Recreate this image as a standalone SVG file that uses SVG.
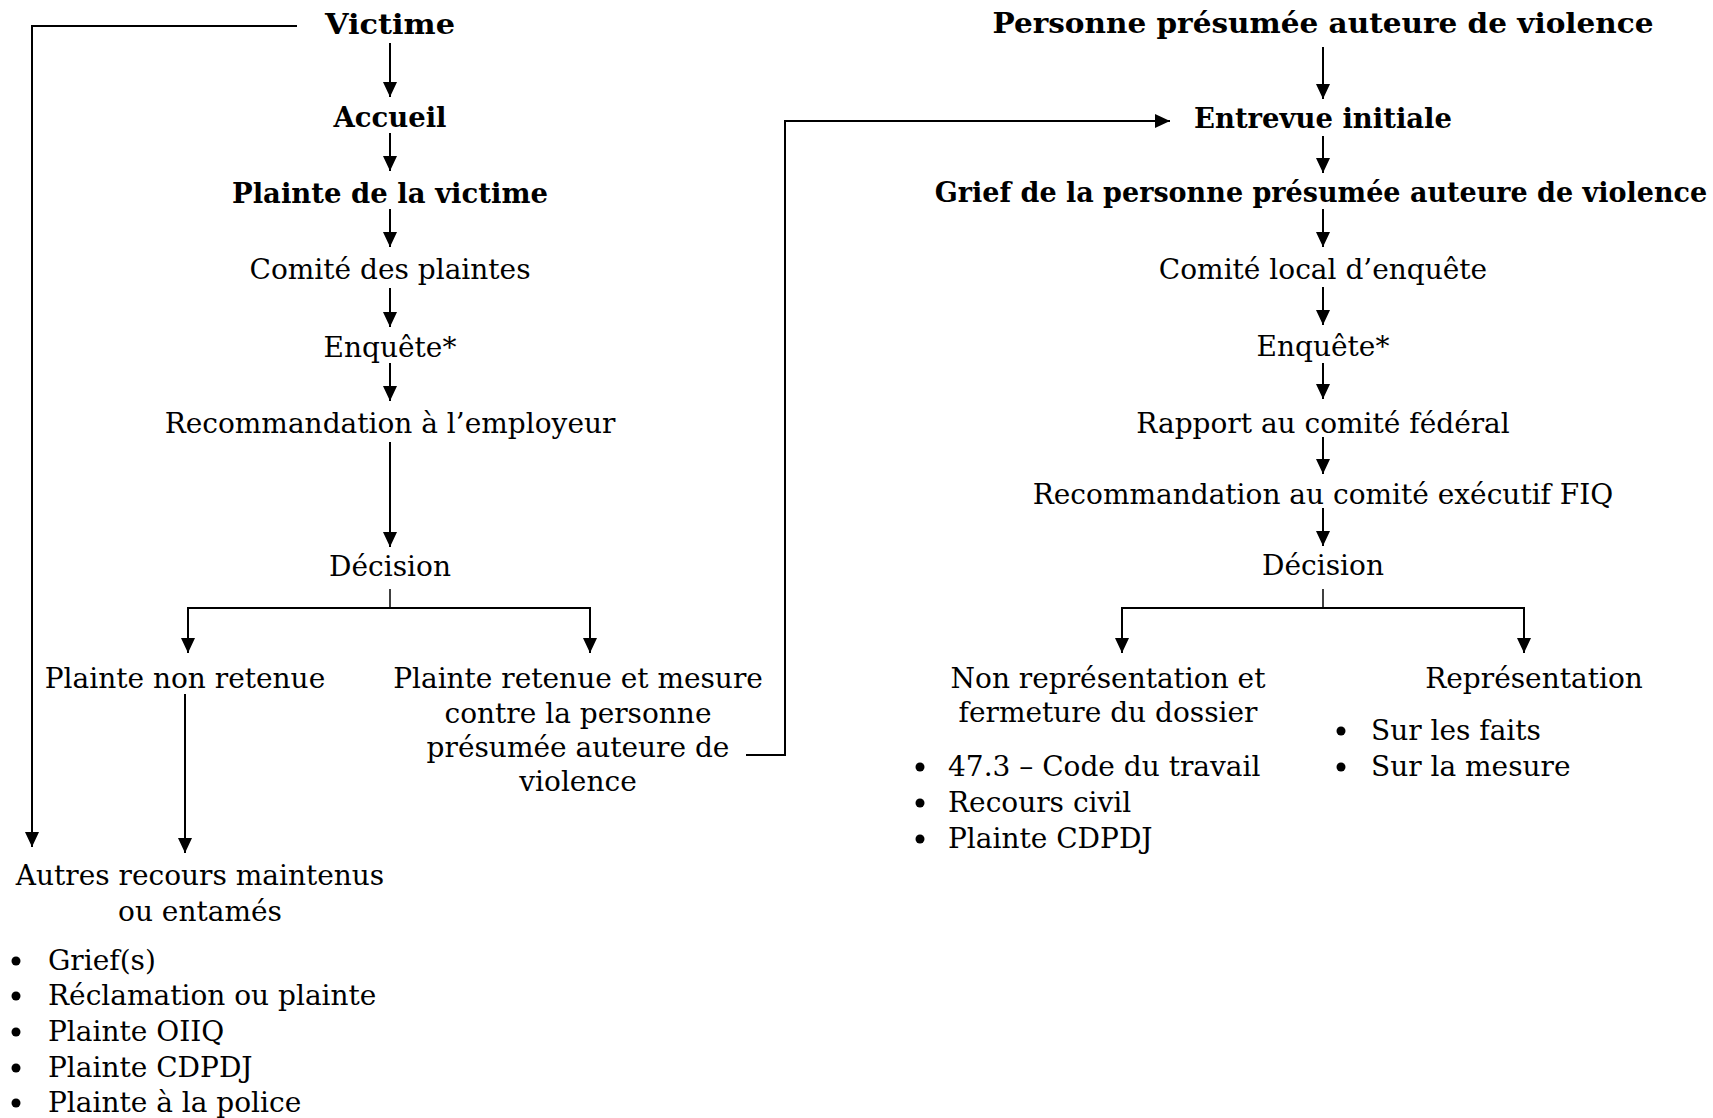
<svg xmlns="http://www.w3.org/2000/svg" width="1713" height="1118" viewBox="0 0 1713 1118">
<style>
text{font-family:"DejaVu Serif","Liberation Serif",serif;font-size:28px;fill:#000}
.b{font-weight:bold}
.c{text-anchor:middle}
.ln{fill:none;stroke:#000;stroke-width:2}
.thin{fill:none;stroke:#000;stroke-width:1.5}
</style>
<defs>
<marker id="ah" markerUnits="userSpaceOnUse" markerWidth="15" markerHeight="15" refX="15" refY="7" orient="auto" viewBox="0 0 15 14">
<path d="M0,0 L15,7 L0,14 z" fill="#000"/>
</marker>
</defs>
<rect width="1713" height="1118" fill="#fff"/>
<g id="connectors">
<path class="ln" d="M297,26 H32 V847" marker-end="url(#ah)"/>
<path class="ln" d="M390,43 V97" marker-end="url(#ah)"/>
<path class="ln" d="M390,133 V171" marker-end="url(#ah)"/>
<path class="ln" d="M390,209 V247" marker-end="url(#ah)"/>
<path class="ln" d="M390,288 V327" marker-end="url(#ah)"/>
<path class="ln" d="M390,363 V401" marker-end="url(#ah)"/>
<path class="ln" d="M390,442 V547" marker-end="url(#ah)"/>
<path class="thin" d="M390,589 V608"/>
<path class="ln" d="M188,608 H590"/>
<path class="ln" d="M188,607 V653" marker-end="url(#ah)"/>
<path class="ln" d="M590,607 V653" marker-end="url(#ah)"/>
<path class="ln" d="M185,694 V853" marker-end="url(#ah)"/>
<path class="ln" d="M746,755 H785 V121 H1170" marker-end="url(#ah)"/>
<path class="ln" d="M1323,47 V99" marker-end="url(#ah)"/>
<path class="ln" d="M1323,136 V173" marker-end="url(#ah)"/>
<path class="ln" d="M1323,209 V247" marker-end="url(#ah)"/>
<path class="ln" d="M1323,287 V325" marker-end="url(#ah)"/>
<path class="ln" d="M1323,363 V399" marker-end="url(#ah)"/>
<path class="ln" d="M1323,437 V474" marker-end="url(#ah)"/>
<path class="ln" d="M1323,508 V546" marker-end="url(#ah)"/>
<path class="thin" d="M1323,589 V608"/>
<path class="ln" d="M1122,608 H1524"/>
<path class="ln" d="M1122,607 V653" marker-end="url(#ah)"/>
<path class="ln" d="M1524,607 V653" marker-end="url(#ah)"/>
</g>
<g id="victime"><text class="b c" x="390" y="34" textLength="130" lengthAdjust="spacingAndGlyphs">Victime</text></g>
<g id="accueil"><text class="b c" x="390" y="127" textLength="113" lengthAdjust="spacingAndGlyphs">Accueil</text></g>
<g id="plainte-victime"><text class="b c" x="390" y="203" textLength="316" lengthAdjust="spacingAndGlyphs">Plainte de la victime</text></g>
<g id="comite-plaintes"><text class="c" x="390" y="279">Comité des plaintes</text></g>
<g id="enquete-left"><text class="c" x="390" y="357">Enquête*</text></g>
<g id="recommandation-employeur"><text class="c" x="390" y="433">Recommandation à l’employeur</text></g>
<g id="decision-left"><text class="c" x="390" y="576">Décision</text></g>
<g id="plainte-non-retenue"><text class="c" x="185" y="688">Plainte non retenue</text></g>
<g id="plainte-retenue">
<text class="c" x="578" y="688">Plainte retenue et mesure</text>
<text class="c" x="578" y="723">contre la personne</text>
<text class="c" x="578" y="757">présumée auteure de</text>
<text class="c" x="578" y="791">violence</text>
</g>
<g id="autres-recours">
<text class="c" x="200" y="885">Autres recours maintenus</text>
<text class="c" x="200" y="921">ou entamés</text>
<circle cx="16" cy="961" r="4.5"/><text x="48" y="970">Grief(s)</text>
<circle cx="16" cy="996" r="4.5"/><text x="48" y="1005">Réclamation ou plainte</text>
<circle cx="16" cy="1032" r="4.5"/><text x="48" y="1041">Plainte OIIQ</text>
<circle cx="16" cy="1068" r="4.5"/><text x="48" y="1077">Plainte CDPDJ</text>
<circle cx="16" cy="1103" r="4.5"/><text x="48" y="1112">Plainte à la police</text>
</g>
<g id="personne"><text class="b c" x="1323" y="33" textLength="661" lengthAdjust="spacingAndGlyphs">Personne présumée auteure de violence</text></g>
<g id="entrevue"><text class="b c" x="1323" y="128" textLength="258" lengthAdjust="spacingAndGlyphs">Entrevue initiale</text></g>
<g id="grief-personne"><text class="b c" x="1321" y="202" style="font-size:27px">Grief de la personne présumée auteure de violence</text></g>
<g id="comite-local"><text class="c" x="1323" y="279">Comité local d’enquête</text></g>
<g id="enquete-right"><text class="c" x="1323" y="356">Enquête*</text></g>
<g id="rapport"><text class="c" x="1323" y="433">Rapport au comité fédéral</text></g>
<g id="recommandation-fiq"><text class="c" x="1323" y="504">Recommandation au comité exécutif FIQ</text></g>
<g id="decision-right"><text class="c" x="1323" y="575">Décision</text></g>
<g id="non-representation">
<text class="c" x="1108" y="688">Non représentation et</text>
<text class="c" x="1108" y="722">fermeture du dossier</text>
<circle cx="920" cy="767" r="4.5"/><text x="948" y="776">47.3 – Code du travail</text>
<circle cx="920" cy="803" r="4.5"/><text x="948" y="812">Recours civil</text>
<circle cx="920" cy="839" r="4.5"/><text x="948" y="848">Plainte CDPDJ</text>
</g>
<g id="representation">
<text class="c" x="1534" y="688">Représentation</text>
<circle cx="1341" cy="731" r="4.5"/><text x="1371" y="740">Sur les faits</text>
<circle cx="1341" cy="767" r="4.5"/><text x="1371" y="776">Sur la mesure</text>
</g>
</svg>
